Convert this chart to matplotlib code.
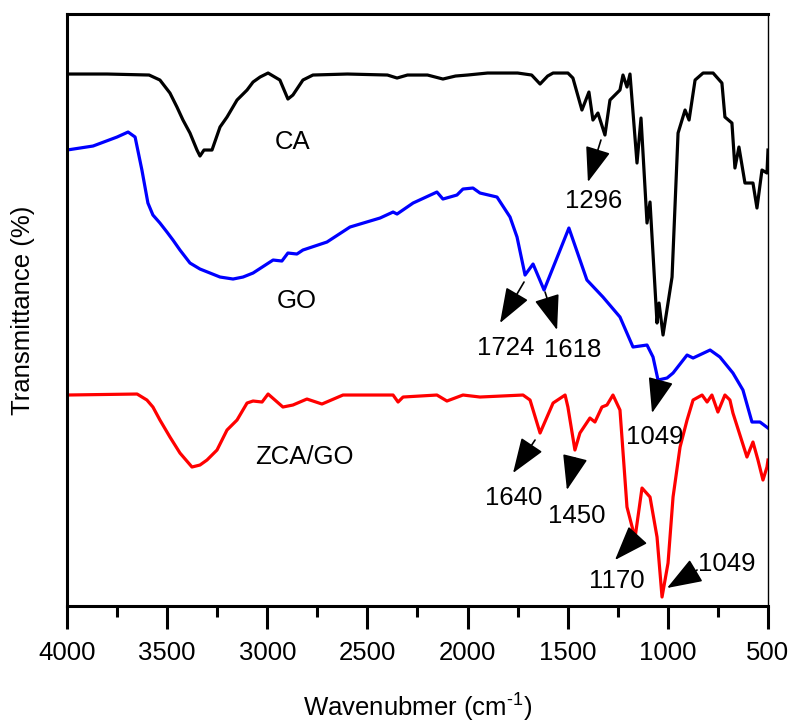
import numpy as np
import matplotlib.pyplot as plt
from matplotlib.ticker import MultipleLocator

plt.rcParams['font.family'] = ['Liberation Sans', 'DejaVu Sans']
plt.rcParams['mathtext.fontset'] = 'custom'
plt.rcParams['mathtext.rm'] = 'Liberation Sans'
plt.rcParams['mathtext.default'] = 'regular'

# Spektrum FTIR, transmitansi digeser per sampel (satuan sembarang)
ca_wn = [4000, 3800, 3590, 3536, 3486, 3451, 3421, 3386, 3351, 3336,
         3316, 3276, 3236, 3201, 3151, 3101, 3071, 3036, 2996, 2937,
         2897, 2872, 2822, 2772, 2600, 2400, 2352, 2300, 2200, 2123,
         2060, 2000, 1900, 1750, 1680, 1638, 1600, 1573, 1499, 1474,
         1429, 1394, 1374, 1349, 1314, 1289, 1239, 1224, 1204, 1189,
         1154, 1134, 1104, 1089, 1054, 1044, 1024, 979, 949, 914,
         894, 864, 824, 774, 730, 715, 680, 665, 645, 615,
         575, 555, 530, 505, 500]
ca_t = [532, 532, 531, 526, 513, 499, 486, 473, 456, 450,
        456, 456, 479, 489, 506, 516, 524, 529, 533, 526,
        507, 511, 526, 531, 532, 531, 528, 531, 531, 527,
        530, 531, 533, 533, 531, 522, 530, 533, 533, 528,
        496, 514, 486, 493, 471, 506, 516, 531, 519, 532,
        443, 488, 383, 404, 283, 303, 271, 329, 473, 496,
        486, 526, 533, 533, 523, 489, 483, 438, 459, 423,
        423, 398, 436, 433, 456]

go_wn = [4000, 3870, 3750, 3695, 3660, 3626, 3596, 3571, 3536, 3501,
         3471, 3436, 3386, 3336, 3286, 3236, 3171, 3121, 3071, 2971,
         2927, 2897, 2852, 2822, 2702, 2587, 2437, 2372, 2352, 2272,
         2153, 2123, 2053, 2023, 1973, 1938, 1853, 1788, 1753, 1713,
         1673, 1618, 1538, 1494, 1404, 1324, 1239, 1174, 1104, 1074,
         1049, 1004, 974, 904, 874, 789, 740, 675, 625, 580,
         540, 500]
go_t = [456, 460, 469, 474, 469, 436, 403, 391, 383, 374,
        366, 356, 343, 337, 333, 329, 327, 329, 333, 346,
        345, 353, 352, 356, 364, 379, 388, 394, 392, 403,
        414, 407, 411, 417, 418, 413, 409, 389, 369, 331,
        342, 316, 356, 378, 326, 309, 289, 259, 261, 249,
        226, 228, 233, 251, 248, 256, 249, 233, 216, 184,
        184, 178]

zca_wn = [4000, 3650, 3601, 3571, 3536, 3486, 3436, 3376, 3336, 3301,
          3251, 3201, 3151, 3101, 3071, 3026, 2996, 2922, 2872, 2802,
          2727, 2622, 2372, 2347, 2322, 2153, 2103, 2023, 1938, 1723,
          1688, 1638, 1573, 1513, 1499, 1464, 1439, 1389, 1364, 1329,
          1304, 1274, 1239, 1204, 1164, 1129, 1089, 1054, 1029, 999,
          974, 939, 904, 874, 829, 804, 780, 750, 715, 690,
          675, 605, 575, 550, 525, 505, 500]
zca_t = [211, 212, 206, 199, 186, 169, 153, 139, 141, 146,
         156, 176, 186, 203, 205, 204, 212, 199, 201, 207,
         202, 211, 211, 204, 209, 211, 205, 211, 209, 211,
         206, 173, 203, 211, 199, 156, 173, 188, 184, 199,
         201, 211, 196, 99, 68, 118, 109, 69, 9, 43,
         109, 159, 186, 206, 211, 204, 211, 194, 211, 206,
         193, 149, 164, 146, 126, 139, 146]

sample_names = ['CA', 'GO', 'ZCA/GO']
peak_labels = ['1296', '1724', '1618', '1049', '1640', '1450', '1170', '1049']


def draw_peak(ax, label, text_xy, tail_xy, tip_xy):
    """Panah segitiga hitam menunjuk puncak serapan, dengan angka di bawahnya."""
    ax.annotate('', xy=tip_xy, xytext=tail_xy,
                arrowprops=dict(arrowstyle='-|>,head_length=1.1,head_width=0.4',
                                mutation_scale=20, color='black', lw=1.2,
                                shrinkA=0, shrinkB=0))
    ax.text(text_xy[0], text_xy[1], label, ha='center', va='center', fontsize=18.5)


def main():
    fig = plt.figure(figsize=(7.91, 7.23), dpi=100)
    ax = fig.add_axes([0.0847, 0.1618, 0.8862, 0.8188])

    ax.plot(ca_wn, ca_t, color='black', lw=2.3)
    ax.plot(go_wn, go_t, color='#0000ff', lw=2.3)
    ax.plot(zca_wn, zca_t, color='#ff0000', lw=2.3)

    # nama sampel
    ax.text(2872, 464, sample_names[0], ha='center', va='center', fontsize=18.5)
    ax.text(2852, 305, sample_names[1], ha='center', va='center', fontsize=18.5)
    ax.text(2817, 149, sample_names[2], ha='center', va='center', fontsize=18.5)

    # (teks, pangkal panah, ujung panah)
    arrows = [
        ((1369, 405), (1334, 466), (1399, 424)),
        ((1808, 258), (1718, 324), (1838, 283)),
        ((1474, 256), (1613, 314), (1553, 276)),
        ((1064, 169), (1039, 223), (1079, 193)),
        ((1768, 108), (1663, 166), (1773, 133)),
        ((1454, 90), (1464, 148), (1504, 116)),
        ((1254, 25), (1159, 69), (1264, 46)),
        ((705, 42), (854, 36), (1004, 18)),
    ]
    for label, (text_xy, tail_xy, tip_xy) in zip(peak_labels, arrows):
        draw_peak(ax, label, text_xy, tail_xy, tip_xy)

    ax.set_xlim(4000, 500)
    ax.set_ylim(0, 592)
    ax.xaxis.set_major_locator(MultipleLocator(500))
    ax.xaxis.set_minor_locator(MultipleLocator(250))
    ax.set_yticks([])
    ax.tick_params(axis='x', which='major', direction='out', length=16.5,
                   width=2.2, labelsize=18.5, pad=9)
    ax.tick_params(axis='x', which='minor', direction='out', length=8, width=2.2)

    for side in ['left', 'bottom', 'top']:
        ax.spines[side].set_linewidth(2.2)
    ax.spines['right'].set_linewidth(1.0)

    ax.set_xlabel(r'Wavenubmer (cm$^{\text{-}1}$)', fontsize=18.5)
    ax.xaxis.set_label_coords(0.5, -0.186)
    ax.xaxis.label.set_va('baseline')
    ax.set_ylabel('Transmittance (%)', fontsize=18.5)
    ax.yaxis.set_label_coords(-0.046, 0.5)

    fig.savefig('out.png', dpi=100)


if __name__ == '__main__':
    main()
